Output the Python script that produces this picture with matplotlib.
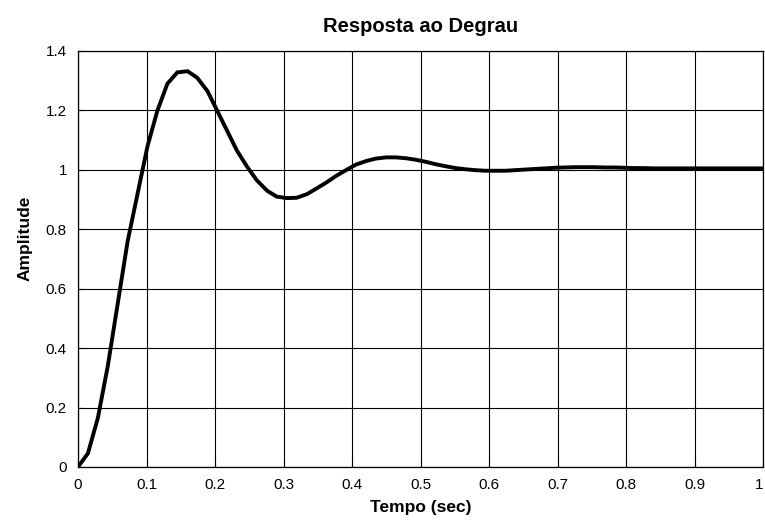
import matplotlib.pyplot as plt

# step response samples (time in seconds, amplitude)
tempo = [0, 0.0145, 0.029, 0.0435, 0.058, 0.0725, 0.087, 0.1015, 0.116, 0.1305,
         0.145, 0.16, 0.174, 0.189, 0.203, 0.218, 0.232, 0.247, 0.261, 0.276,
         0.29, 0.305, 0.319, 0.334, 0.348, 0.363, 0.377, 0.392, 0.406, 0.421,
         0.435, 0.45, 0.464, 0.479, 0.493, 0.508, 0.522, 0.537, 0.551, 0.566,
         0.58, 0.595, 0.609, 0.624, 0.638, 0.653, 0.667, 0.682, 0.696, 0.71,
         0.725, 0.74, 0.754, 0.769, 0.783, 0.798, 0.812, 0.827, 0.841, 1.0]
amplitude = [0, 0.046, 0.165, 0.34, 0.55, 0.76, 0.92, 1.08, 1.20, 1.29,
             1.328, 1.332, 1.31, 1.265, 1.20, 1.13, 1.065, 1.01, 0.965, 0.93,
             0.91, 0.905, 0.906, 0.918, 0.937, 0.958, 0.98, 1.0, 1.018, 1.03,
             1.038, 1.042, 1.042, 1.039, 1.034, 1.027, 1.019, 1.012, 1.006, 1.002,
             0.999, 0.997, 0.997, 0.997, 0.999, 1.001, 1.003, 1.005, 1.007, 1.008,
             1.009, 1.009, 1.009, 1.008, 1.008, 1.007, 1.006, 1.006, 1.005, 1.005]

x_ticks = [0, 0.1, 0.2, 0.3, 0.4, 0.5, 0.6, 0.7, 0.8, 0.9, 1]
x_labels = ["0", "0.1", "0.2", "0.3", "0.4", "0.5", "0.6", "0.7", "0.8", "0.9", "1"]
y_ticks = [0, 0.2, 0.4, 0.6, 0.8, 1, 1.2, 1.4]
y_labels = ["0", "0.2", "0.4", "0.6", "0.8", "1", "1.2", "1.4"]

plt.rcParams['font.family'] = ['Liberation Sans', 'DejaVu Sans']

fig = plt.figure(figsize=(7.65, 5.22), dpi=100)
ax = fig.add_axes([78 / 765, 1 - 467 / 522, 685 / 765, 416 / 522])

ax.plot(tempo, amplitude, color="black", linewidth=2.8, solid_joinstyle="miter")

ax.set_xlim(0, 1)
ax.set_ylim(0, 1.4)
ax.set_xticks(x_ticks)
ax.set_xticklabels(x_labels)
ax.set_yticks(y_ticks)
ax.set_yticklabels(y_labels)
ax.tick_params(direction="in", length=4, width=0.8, labelsize=11, pad=8)
# last x label sits on the figure edge, keep it inside
ax.get_xticklabels()[-1].set_horizontalalignment("right")
ax.grid(True, color="black", linewidth=0.8, linestyle="-")
for s in ax.spines.values():
    s.set_linewidth(0.9)

ax.set_title("Resposta ao Degrau", fontsize=14.5, fontweight="bold", pad=14)
ax.set_xlabel("Tempo (sec)", fontsize=12.5, fontweight="bold", labelpad=6)
ax.set_ylabel("Amplitude", fontsize=12.5, fontweight="bold")
ax.yaxis.set_label_coords(-0.067, 0.55)

fig.savefig("out.png", dpi=100)
